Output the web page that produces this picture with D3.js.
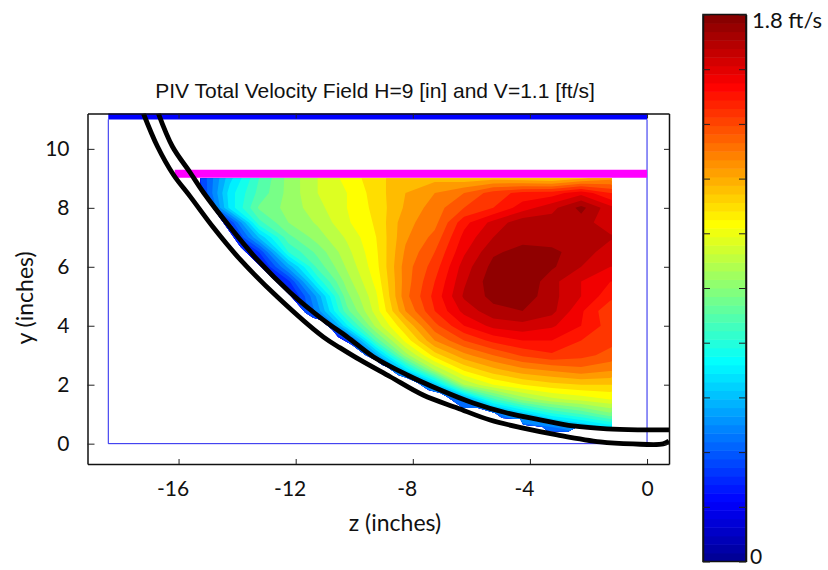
<!DOCTYPE html>
<html>
<head>
<meta charset="utf-8">
<script src="https://cdnjs.cloudflare.com/ajax/libs/d3/7.8.5/d3.min.js"></script>
<style>
	html, body { margin: 0; padding: 0; background: #fff; }
	svg { display: block; }
</style>
</head>
<body>
<div id="chart"></div>
<script>
'use strict';

// field sample positions (inches)
var zGrid = [-15.25, -14.25, -13.25, -12.25, -11.25, -10.25, -9.25, -8.25, -7.25, -6.25, -5.25, -4.25, -3.25, -2.25, -1.25];
var yGrid = [9, 8.5, 8, 7.5, 7, 6.5, 6, 5.5, 5, 4.5, 4, 3.5, 3, 2.5, 2, 1.5, 1, 0.5, 0];

// total velocity (ft/s), one row per yGrid entry
var velocity = [
	[.30, .58, .78, .92, 1.02, 1.10, 1.18, 1.24, 1.24, 1.22, 1.24, 1.22, 1.20, 1.25, 1.30],
	[.28, .63, .80, .92, 1.02, 1.08, 1.17, 1.26, 1.32, 1.38, 1.47, 1.52, 1.53, 1.60, 1.50],
	[.20, .62, .85, .92, 1.00, 1.08, 1.16, 1.27, 1.35, 1.44, 1.50, 1.59, 1.66, 1.76, 1.64],
	[.18, .30, .76, .90, .97, 1.07, 1.15, 1.30, 1.36, 1.54, 1.64, 1.72, 1.71, 1.71, 1.64],
	[.18, .20, .55, .82, .93, 1.03, 1.14, 1.31, 1.40, 1.58, 1.68, 1.72, 1.72, 1.73, 1.69],
	[.18, .18, .30, .72, .86, 1.00, 1.13, 1.33, 1.44, 1.61, 1.73, 1.76, 1.75, 1.72, 1.64],
	[.18, .18, .18, .50, .80, .97, 1.12, 1.35, 1.47, 1.65, 1.76, 1.80, 1.75, 1.68, 1.62],
	[.18, .18, .18, .28, .68, .93, 1.10, 1.35, 1.50, 1.67, 1.78, 1.80, 1.70, 1.62, 1.56],
	[.18, .18, .18, .18, .50, .88, 1.07, 1.36, 1.52, 1.69, 1.76, 1.78, 1.70, 1.62, 1.52],
	[.18, .18, .18, .18, .45, .82, 1.05, 1.32, 1.50, 1.64, 1.72, 1.74, 1.70, 1.57, 1.45],
	[.18, .18, .18, .18, .22, .65, .98, 1.20, 1.42, 1.56, 1.64, 1.66, 1.63, 1.56, 1.47],
	[.18, .18, .18, .18, .18, .30, .80, 1.10, 1.32, 1.44, 1.52, 1.56, 1.56, 1.50, 1.46],
	[.18, .18, .18, .18, .18, .20, .50, .93, 1.17, 1.30, 1.38, 1.45, 1.49, 1.46, 1.42],
	[.18, .18, .18, .18, .18, .18, .25, .60, .96, 1.15, 1.24, 1.30, 1.33, 1.36, 1.33],
	[.18, .18, .18, .18, .18, .18, .18, .30, .55, .96, 1.08, 1.14, 1.18, 1.20, 1.20],
	[.18, .18, .18, .18, .18, .18, .18, .18, .30, .45, .76, .92, 1.00, 1.04, 1.08],
	[.18, .18, .18, .18, .18, .18, .18, .18, .18, .30, .38, .55, .70, .78, .88],
	[.18, .18, .18, .18, .18, .18, .18, .18, .18, .18, .25, .34, .38, .48, .58],
	[.18, .18, .18, .18, .18, .18, .18, .18, .18, .18, .18, .20, .25, .30, .40]
];

// outline of the measured area [z, y]
var fieldEdge = [
	[-15.25, 9], [-15.25, 8.62], [-14.91, 8.11], [-13.89, 6.68], [-12.18, 5.02], [-11.67, 4.44], [-11.40, 4.27],
	[-11.16, 4.20], [-10.75, 3.86], [-10.55, 3.62], [-10.07, 3.35], [-9.62, 3.01], [-9.28, 2.84], [-9.04, 2.67],
	[-8.87, 2.60], [-8.50, 2.33], [-8.19, 2.23], [-7.82, 2.06], [-7.47, 1.82], [-7.06, 1.72], [-6.83, 1.59],
	[-6.28, 1.21], [-5.77, 1.21], [-5.19, 1.04], [-4.95, .87], [-4.33, .84], [-4.23, .64], [-3.58, .57],
	[-3.41, .43], [-2.70, .40], [-2.46, .53], [-1.2, .53], [-1.2, 9]
];

// the two thick black walls [z, y]
var wallUpper = [
	[-16.69, 11.2], [-16.21, 10.08], [-15.60, 9.19], [-15.15, 8.52], [-14.23, 7.33], [-13.31, 6.24], [-12.18, 5.12],
	[-11.06, 4.20], [-10.24, 3.62], [-9.35, 2.95], [-8.19, 2.33], [-7.06, 1.82], [-5.94, 1.38], [-4.78, 1.04],
	[-3.65, .81], [-2.53, .60], [-1.37, .50], [-.24, .47], [.75, .47]
];
var wallLower = [
	[-17.2, 11.2], [-16.72, 10.08], [-16.18, 9.13], [-15.60, 8.38], [-14.81, 7.33], [-13.89, 6.24], [-12.63, 4.98],
	[-11.06, 3.62], [-10.48, 3.25], [-9.80, 2.84], [-8.77, 2.27], [-7.65, 1.65], [-6.48, 1.21], [-5.36, .80],
	[-4.23, .53], [-3.07, .30], [-1.60, .06], [-.48, -.01], [.55, -.01], [.75, .09]
];

// thin blue frame and the two thick bars
var frameLine = [[-18.4, 11], [-18.4, 0], [0, 0], [0, 11]];
var blueBar = [[-18.4, 11.11], [0, 11.11]];
var magentaBar = [[-16.13, 9.16], [0, 9.16]];

var xTicks = [-16, -12, -8, -4, 0];
var yTicks = [0, 2, 4, 6, 8, 10];
var barTicks = [0, .18, .36, .54, .72, .9, 1.08, 1.26, 1.44, 1.62, 1.8];
var jetStops = ['#00008f', '#0000ff', '#00ffff', '#ffff00', '#ff0000', '#800000'];
var jetPositions = [0, .11, .365, .617, .87, 1];

var vMax = 1.8;
var contourStep = .06;
var barLevels = 64;

var svg = d3.select('#chart').append('svg')
	.attr('width', 828)
	.attr('height', 570);

var font = 'Lato, "Open Sans", sans-serif';

var xScale = d3.scaleLinear().domain([-19.11, .75]).range([87.5, 669]);
var yScale = d3.scaleLinear().domain([-.69, 11.2]).range([464, 113.5]);
var barScale = d3.scaleLinear().domain([0, vMax]).range([561.5, 14.5]);

var jet = d3.scaleLinear()
	.domain(jetPositions.map(function(p){ return p * vMax; }))
	.range(jetStops)
	.clamp(true);

var line = d3.line()
	.x(function(d){ return xScale(d[0]); })
	.y(function(d){ return yScale(d[1]); });

var defs = svg.append('defs');

defs.append('clipPath')
	.attr('id', 'fieldClip')
	.append('path')
	.attr('d', line(fieldEdge) + 'Z');

defs.append('clipPath')
	.attr('id', 'plotClip')
	.append('rect')
	.attr('x', xScale.range()[0])
	.attr('y', yScale.range()[1])
	.attr('width', xScale.range()[1] - xScale.range()[0])
	.attr('height', yScale.range()[0] - yScale.range()[1]);

// filled contours, d3.contours places sample i at index i + 0.5
var nx = zGrid.length;
var ny = yGrid.length;
var indexToZ = d3.scaleLinear().domain([.5, nx - .5]).range([zGrid[0], zGrid[nx - 1]]);
var indexToY = d3.scaleLinear().domain([.5, ny - .5]).range([yGrid[0], yGrid[ny - 1]]);

var thresholds = d3.range(0, vMax, contourStep);

var contours = d3.contours()
	.size([nx, ny])
	.thresholds(thresholds)(d3.merge(velocity));

var contourPath = d3.geoPath(d3.geoTransform({
	point: function(x, y){
		this.stream.point(xScale(indexToZ(x)), yScale(indexToY(y)));
	}
}));

svg.append('g')
	.attr('class', 'field')
	.attr('clip-path', 'url(#fieldClip)')
	.selectAll('path')
	.data(contours)
	.enter()
	.append('path')
	.attr('d', contourPath)
	.attr('fill', function(d){ return jet(d.value + contourStep / 2); });

// frame, bars and walls
var overlays = svg.append('g')
	.attr('class', 'overlays')
	.attr('clip-path', 'url(#plotClip)')
	.attr('fill', 'none');

overlays.append('path')
	.attr('d', line(frameLine))
	.attr('stroke', '#2222ee')
	.attr('stroke-width', 1);

overlays.append('path')
	.attr('d', line(blueBar))
	.attr('stroke', '#0000ff')
	.attr('stroke-width', 6.5);

overlays.append('path')
	.attr('d', line(magentaBar))
	.attr('stroke', '#ff00ff')
	.attr('stroke-width', 8);

var wallLine = d3.line()
	.curve(d3.curveCatmullRom)
	.x(function(d){ return xScale(d[0]); })
	.y(function(d){ return yScale(d[1]); });

[wallUpper, wallLower].forEach(function(wall){
	overlays.append('path')
		.attr('d', wallLine(wall))
		.attr('stroke', '#000')
		.attr('stroke-width', 4.8)
		.attr('stroke-linejoin', 'round');
});

// axes, ticks point inwards on all four sides
function styleAxis(g){
	g.select('.domain').attr('stroke', '#111').attr('stroke-width', 1.5);
	g.selectAll('.tick line').attr('stroke', '#222');
}

svg.append('g')
	.attr('class', 'axis x')
	.attr('transform', 'translate(0,' + yScale.range()[0] + ')')
	.call(d3.axisBottom(xScale).tickValues(xTicks).tickSize(-5).tickSizeOuter(0).tickPadding(17))
	.call(styleAxis)
	.selectAll('text')
	.attr('font-family', font)
	.attr('font-size', 21)
	.attr('fill', '#111')
	.attr('dx', function(d){ return d < 0 ? -6 : 0; })
	.text(function(d){ return d < 0 ? '-' + Math.abs(d) : d; });

svg.append('g')
	.attr('class', 'axis y')
	.attr('transform', 'translate(' + xScale.range()[0] + ',0)')
	.call(d3.axisLeft(yScale).tickValues(yTicks).tickSize(-7).tickSizeOuter(0).tickPadding(18))
	.call(styleAxis)
	.selectAll('text')
	.attr('font-family', font)
	.attr('font-size', 21)
	.attr('fill', '#111');

svg.append('g')
	.attr('transform', 'translate(0,' + yScale.range()[1] + ')')
	.call(d3.axisTop(xScale).tickValues(xTicks).tickSize(-5).tickSizeOuter(0).tickFormat(''))
	.call(styleAxis);

svg.append('g')
	.attr('transform', 'translate(' + xScale.range()[1] + ',0)')
	.call(d3.axisRight(yScale).tickValues(yTicks).tickSize(-5).tickSizeOuter(0).tickFormat(''))
	.call(styleAxis);

svg.append('text')
	.attr('x', 375)
	.attr('y', 97.5)
	.attr('text-anchor', 'middle')
	.attr('font-family', '"Liberation Sans", Arial, sans-serif')
	.attr('font-size', 21)
	.attr('fill', '#111')
	.text('PIV Total Velocity Field H=9 [in] and V=1.1 [ft/s]');

svg.append('text')
	.attr('x', 395)
	.attr('y', 531)
	.attr('text-anchor', 'middle')
	.attr('font-family', font)
	.attr('font-size', 23)
	.attr('fill', '#111')
	.text('z (inches)');

svg.append('text')
	.attr('transform', 'translate(33,298) rotate(-90)')
	.attr('text-anchor', 'middle')
	.attr('font-family', font)
	.attr('font-size', 23)
	.attr('fill', '#111')
	.text('y (inches)');

// colour bar
var barX = d3.scaleLinear().domain([0, 1]).range([703, 746]);
var bandHeight = (barScale.range()[0] - barScale.range()[1]) / barLevels;

svg.append('g')
	.attr('class', 'colorbar')
	.selectAll('rect')
	.data(d3.range(barLevels))
	.enter()
	.append('rect')
	.attr('x', barX(0))
	.attr('width', barX(1) - barX(0))
	.attr('y', function(d){ return barScale((d + 1) * vMax / barLevels); })
	.attr('height', bandHeight + .5)
	.attr('fill', function(d){ return jet((d + .5) * vMax / barLevels); });

svg.append('rect')
	.attr('x', barX(0))
	.attr('y', barScale.range()[1])
	.attr('width', barX(1) - barX(0))
	.attr('height', barScale.range()[0] - barScale.range()[1])
	.attr('fill', 'none')
	.attr('stroke', '#111')
	.attr('stroke-width', 1.5);

svg.append('g')
	.attr('transform', 'translate(' + barX(0) + ',0)')
	.call(d3.axisLeft(barScale).tickValues(barTicks).tickSize(-7).tickSizeOuter(0).tickFormat(''))
	.call(styleAxis);

svg.append('g')
	.attr('transform', 'translate(' + barX(1) + ',0)')
	.call(d3.axisRight(barScale).tickValues(barTicks).tickSize(-7).tickSizeOuter(0).tickFormat(''))
	.call(styleAxis);

svg.append('text')
	.attr('x', 752)
	.attr('y', 28)
	.attr('font-family', font)
	.attr('font-size', 22)
	.attr('fill', '#111')
	.text('1.8 ft/s');

svg.append('text')
	.attr('x', 750)
	.attr('y', 564)
	.attr('font-family', font)
	.attr('font-size', 21)
	.attr('fill', '#111')
	.text('0');
</script>
</body>
</html>
